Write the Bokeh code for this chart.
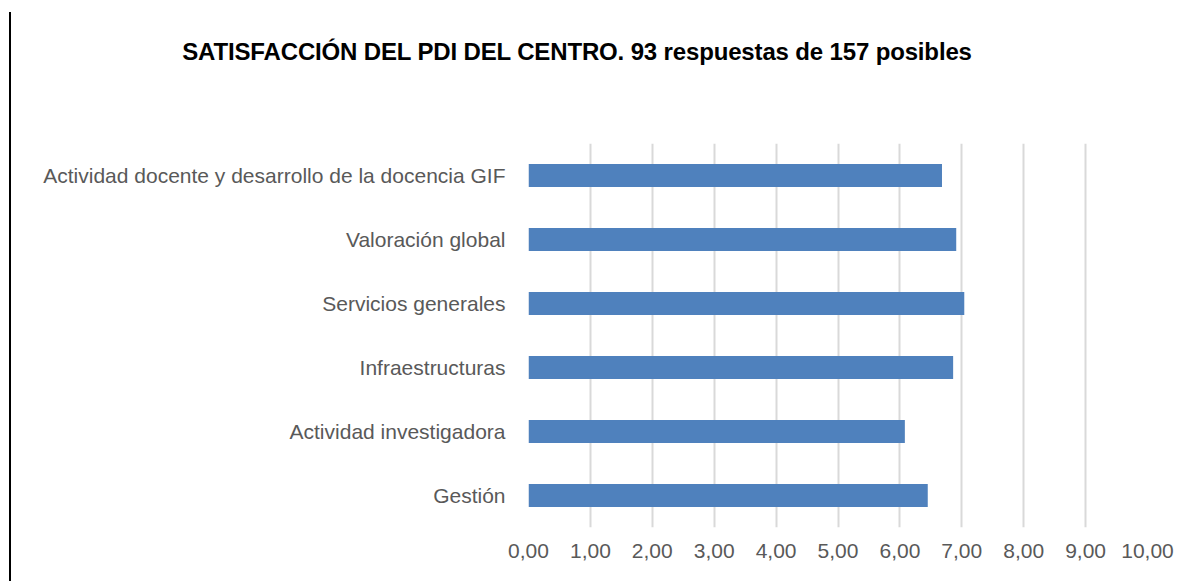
from bokeh.plotting import figure
from bokeh.models import FactorRange, Range1d, FixedTicker, CustomJSTickFormatter, Div
from bokeh.layouts import row, column
from bokeh.embed import file_html
from bokeh.resources import INLINE

categories = [
    "Actividad docente y desarrollo de la docencia GIF",
    "Valoración global",
    "Servicios generales",
    "Infraestructuras",
    "Actividad investigadora",
    "Gestión",
]
values = [6.68, 6.91, 7.04, 6.86, 6.08, 6.45]
x_ticks = [0, 1, 2, 3, 4, 5, 6, 7, 8, 9, 10]
title_text = "SATISFACCIÓN DEL PDI DEL CENTRO. 93 respuestas de 157 posibles"

factors = list(reversed(categories))
vals_rev = list(reversed(values))

p = figure(
    width=1177, height=481,
    y_range=FactorRange(factors=factors, range_padding=0),
    x_range=Range1d(0, 10),
    output_backend="svg", toolbar_location=None,
    min_border_left=517, min_border_right=41, min_border_top=43, min_border_bottom=54,
    margin=0,
)
p.outline_line_color = None
p.hbar(y=factors, right=vals_rev, left=0, height=0.36, color="#4F81BD", line_color=None)

p.xaxis.ticker = FixedTicker(ticks=x_ticks)
p.xaxis.formatter = CustomJSTickFormatter(code="return tick.toFixed(2).replace('.', ',');")
for ax in (p.xaxis[0], p.yaxis[0]):
    ax.axis_line_color = None
    ax.major_tick_line_color = None
    ax.minor_tick_line_color = None
    ax.major_label_text_font = "Liberation Sans"
    ax.major_label_text_font_size = "21px"
    ax.major_label_text_color = "#595959"
p.xaxis.major_label_standoff = 10
p.yaxis.major_label_standoff = 17

p.xgrid.grid_line_color = "#D9D9D9"
p.xgrid.grid_line_width = 2
p.ygrid.grid_line_color = None

title_div = Div(
    width=1177, height=100, margin=0,
    text=('<div style="position:absolute; left:0px; top:39px; width:1132px; text-align:center; '
          'font-family:\'Liberation Sans\'; font-weight:bold; font-size:24px; line-height:26px; '
          'letter-spacing:-0.15px; color:#000000; white-space:nowrap;">' + title_text + '</div>'),
)
line_div = Div(
    width=11, height=581, margin=0,
    text='<div style="position:absolute; left:9px; top:12px; width:2px; height:569px; background:#000000;"></div>',
)

layout = row(line_div, column(title_div, p, spacing=0, margin=0), spacing=0, margin=0)

open("out.html", "w").write(file_html(layout, INLINE))
